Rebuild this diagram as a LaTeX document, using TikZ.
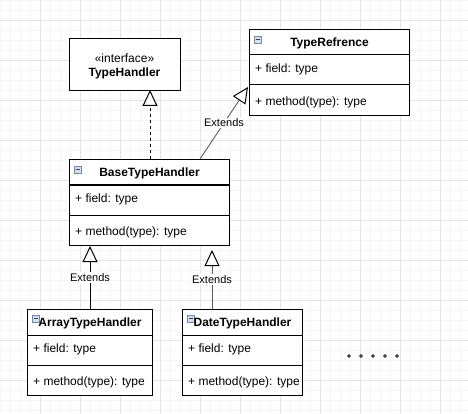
\documentclass[tikz,border=0pt]{standalone}
\usepackage{fontspec}
\setmainfont{Liberation Sans}
\usetikzlibrary{arrows.meta,calc}
\definecolor{gridminor}{RGB}{246,246,246}
\definecolor{gridmajor}{RGB}{228,228,228}
\definecolor{iconline}{RGB}{115,135,165}
\definecolor{iconfill}{RGB}{212,224,240}
\newcommand\umlicon[2]{%
  \draw[iconline, fill=iconfill, line width=0.6pt] (#1,#2) rectangle ++(7,7);
  \draw[black!75, line width=0.8pt] (#1+1.5,#2+3.5) -- ++(4,0);}
\begin{document}
\begin{tikzpicture}[x=1pt,y=-1pt,
  umlbox/.style={draw=black, fill=white, line width=1pt, anchor=north west, inner sep=0pt},
  titletext/.style={font=\fontsize{12}{14}\selectfont\bfseries, inner sep=0pt},
  plaintext/.style={font=\fontsize{12}{14}\selectfont, inner sep=0pt},
  member/.style={font=\fontsize{12}{14}\selectfont, anchor=west, inner sep=0pt},
  lbl/.style={font=\fontsize{11}{13}\selectfont, fill=white, inner sep=1pt},
  divider/.style={draw=black, line width=1pt},
  ext/.style={draw=black, line width=1pt, -{Triangle[fill=white,color=black,length=16pt,width=15pt,line width=1pt]}},
  greyext/.style={ext, draw=black!65, line width=0.9pt},
  dashedext/.style={ext, dash pattern=on 3pt off 3pt},
  dotmark/.style={draw=black, line width=0.6pt, fill=white}
]
\useasboundingbox (0,0) rectangle (468,414);
% grid
\foreach \i in {0,10,...,460} \draw[gridminor, line width=0.6pt] (\i,0) -- (\i,414);
\foreach \j in {0,10,...,410} \draw[gridminor, line width=0.6pt] (0,\j) -- (468,\j);
\foreach \i in {40,80,...,440} \draw[gridmajor, line width=0.8pt] (\i,0) -- (\i,414);
\foreach \j in {20,60,...,380} \draw[gridmajor, line width=0.8pt] (0,\j) -- (468,\j);

% TypeHandler (interface)
\node[umlbox, minimum width=111pt, minimum height=52pt] (th) at (69,38) {};
\node[plaintext] (thstereo) at (124.5,58) {«interface»};
\node[titletext] (thname) at (124.5,73) {TypeHandler};

% TypeRefrence
\node[umlbox, minimum width=160pt, minimum height=86pt] (tr) at (249,29) {};
\draw[divider] ($(tr.north west)+(0,26)$) -- ($(tr.north east)+(0,26)$);
\draw[divider] ($(tr.north west)+(0,56)$) -- ($(tr.north east)+(0,56)$);
\umlicon{254}{36}
\node[titletext] (trname) at ($(tr.north)+(0,14.5)$) {TypeRefrence};
\node[member] (trfield) at ($(tr.north west)+(6,40)$) {+ field: type};
\node[member] (trmethod) at ($(tr.north west)+(6,73)$) {+ method(type): type};

% BaseTypeHandler
\node[umlbox, minimum width=160pt, minimum height=86pt] (base) at (69,159) {};
\draw[divider] ($(base.north west)+(0,26)$) -- ($(base.north east)+(0,26)$);
\draw[divider] ($(base.north west)+(0,56)$) -- ($(base.north east)+(0,56)$);
\umlicon{74}{166}
\node[titletext] (basename) at ($(base.north)+(0,14.5)$) {BaseTypeHandler};
\node[member] (basefield) at ($(base.north west)+(6,40)$) {+ field: type};
\node[member] (basemethod) at ($(base.north west)+(6,73)$) {+ method(type): type};

% ArrayTypeHandler
\node[umlbox, minimum width=125pt, minimum height=86pt] (arr) at (27,309) {};
\draw[divider] ($(arr.north west)+(0,26)$) -- ($(arr.north east)+(0,26)$);
\draw[divider] ($(arr.north west)+(0,56)$) -- ($(arr.north east)+(0,56)$);
\umlicon{32}{315}
\node[titletext] (arrname) at ($(arr.north)+(0,14.5)$) {ArrayTypeHandler};
\node[member] (arrfield) at ($(arr.north west)+(6,40)$) {+ field: type};
\node[member] (arrmethod) at ($(arr.north west)+(6,73)$) {+ method(type): type};

% DateTypeHandler
\node[umlbox, minimum width=120pt, minimum height=86pt] (date) at (182,309) {};
\draw[divider] ($(date.north west)+(0,26)$) -- ($(date.north east)+(0,26)$);
\draw[divider] ($(date.north west)+(0,56)$) -- ($(date.north east)+(0,56)$);
\umlicon{187}{315}
\node[titletext] (datename) at ($(date.north)+(0,14.5)$) {DateTypeHandler};
\node[member] (datefield) at ($(date.north west)+(6,40)$) {+ field: type};
\node[member] (datemethod) at ($(date.north west)+(6,73)$) {+ method(type): type};

% connectors
\coordinate (basetopA) at (150,159);
\coordinate (thfoot) at (150,90);
\draw[dashedext] (basetopA) -- (thfoot);

\coordinate (basetopB) at (200,159);
\coordinate (trfoot) at (248,87);
\draw[greyext] (basetopB) -- node[lbl] (lblA) {Extends} (trfoot);

\draw[ext] (arr.north) -- node[lbl] (lblB) {Extends} (arr.north |- base.south);

\coordinate (datetop) at (212,309);
\coordinate (datetip) at (212,250);
\draw[greyext] (datetop) -- node[lbl] (lblC) {Extends} (datetip);

% dots
\foreach \k in {0,...,4} \draw[dotmark] (349+12*\k,356) circle[radius=1.4pt];
\end{tikzpicture}
\end{document}
